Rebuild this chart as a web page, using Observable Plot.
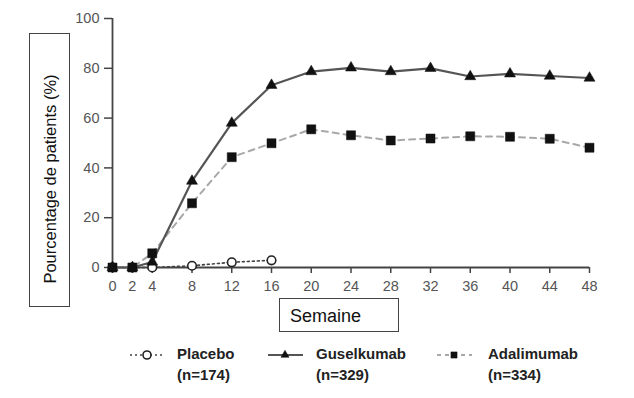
<!DOCTYPE html>
<html>
<head>
<meta charset="utf-8">
<script src="https://cdn.jsdelivr.net/npm/d3@7"></script>
<script src="https://cdn.jsdelivr.net/npm/@observablehq/plot@0.6"></script>
<style>
  html, body { margin: 0; padding: 0; background: #fff; }
  #wrap { position: relative; width: 634px; height: 398px; font-family: "Liberation Sans", Arial, sans-serif; overflow: hidden; }
  #chart { position: absolute; left: 0; top: 0; }
  .box { position: absolute; border: 1.5px solid #444; box-sizing: border-box; background: #fff; }
  #ylab { left: 29px; top: 33px; width: 41px; height: 274px; }
  #ylab span { position: absolute; left: 50%; top: 145px; transform: translate(-50%, -50%) rotate(-90deg); white-space: nowrap; font-size: 16.5px; color: #111; }
  #xlab { left: 279px; top: 298px; width: 120px; height: 34px; }
  #xlab span { position: absolute; left: 10px; top: 7px; font-size: 18px; color: #111; }
  .leg { position: absolute; top: 343px; font-weight: bold; font-size: 15px; line-height: 21px; color: #222; }
  .legsym { position: absolute; top: 345px; }
</style>
</head>
<body>
<div id="wrap">
  <div id="chart"></div>
  <div class="box" id="ylab"><span>Pourcentage de patients (%)</span></div>
  <div class="box" id="xlab"><span>Semaine</span></div>
</div>
<script>
const weeks = [0, 2, 4, 8, 12, 16, 20, 24, 28, 32, 36, 40, 44, 48];
const placeboWeeks = [0, 2, 4, 8, 12, 16];
const placebo = [0, 0, 0, 0.7, 2.1, 2.9];
const guselkumab = [0, 0, 2.2, 34.7, 58.0, 73.2, 78.7, 80.2, 78.7, 80.0, 76.7, 77.8, 76.9, 76.1];
const adalimumab = [0, 0, 5.7, 25.8, 44.3, 49.9, 55.5, 53.1, 51.0, 51.8, 52.7, 52.5, 51.7, 48.1];
const xTicks = [0, 2, 4, 8, 12, 16, 20, 24, 28, 32, 36, 40, 44, 48];
const yTicks = [0, 20, 40, 60, 80, 100];
const seriesNames = ["Placebo", "Guselkumab", "Adalimumab"];
const seriesN = ["(n=174)", "(n=329)", "(n=334)"];

const pla = placeboWeeks.map((w, i) => ({week: w, value: placebo[i]}));
const gus = weeks.map((w, i) => ({week: w, value: guselkumab[i]}));
const ada = weeks.map((w, i) => ({week: w, value: adalimumab[i]}));

const chart = Plot.plot({
  width: 634,
  height: 340,
  marginLeft: 112,
  marginRight: 45,
  marginTop: 18,
  marginBottom: 73,
  style: {fontFamily: "Liberation Sans, Arial, sans-serif", background: "transparent"},
  x: {domain: [0, 48]},
  y: {domain: [0, 100]},
  marks: [
    Plot.axisY({ticks: yTicks, tickSize: 8, tickPadding: 5, label: null, fontSize: 14.5, color: "#555", stroke: "#444", strokeWidth: 1.5}),
    Plot.axisX({ticks: xTicks, tickSize: 6, tickPadding: 7, label: null, fontSize: 14.5, color: "#555", stroke: "#444", strokeWidth: 1.5}),
    Plot.ruleX([0], {stroke: "#444", strokeWidth: 1.8}),
    Plot.ruleY([0], {stroke: "#444", strokeWidth: 1.8}),
    Plot.line(pla, {x: "week", y: "value", stroke: "#444", strokeWidth: 1.6, strokeDasharray: "2,3"}),
    Plot.dot(pla, {x: "week", y: "value", symbol: "circle", r: 4.3, fill: "#fff", stroke: "#222", strokeWidth: 1.6}),
    Plot.line(ada, {x: "week", y: "value", stroke: "#a8a8a8", strokeWidth: 2, strokeDasharray: "6,5"}),
    Plot.line(gus, {x: "week", y: "value", stroke: "#555", strokeWidth: 2.2}),
    Plot.dot(ada, {x: "week", y: "value", symbol: "square", r: 5.1, fill: "#111", stroke: "#111", strokeWidth: 0.5}),
    Plot.dot(gus, {x: "week", y: "value", symbol: "triangle", r: 4.1, fill: "#111", stroke: "#111", strokeWidth: 0.5})
  ]
});
document.getElementById("chart").appendChild(chart);

// Legend
const wrap = document.getElementById("wrap");
const legSpecs = [
  {x0: 128, cx: 19, tx: 177, sym: "circle", dash: "2,3", stroke: "#444", sw: 1.5},
  {x0: 266, cx: 19, tx: 316, sym: "triangle", dash: null, stroke: "#555", sw: 2},
  {x0: 435, cx: 19, tx: 488, sym: "square", dash: "4,4", stroke: "#a8a8a8", sw: 2}
];
legSpecs.forEach((s, i) => {
  const svg = d3.create("svg").attr("class", "legsym").attr("width", 40).attr("height", 20)
    .style("left", s.x0 + "px");
  svg.append("line").attr("x1", 2).attr("x2", 37).attr("y1", 10).attr("y2", 10)
    .attr("stroke", s.stroke).attr("stroke-width", s.sw).attr("stroke-dasharray", s.dash);
  const symType = s.sym === "circle" ? d3.symbolCircle : s.sym === "triangle" ? d3.symbolTriangle : d3.symbolSquare;
  const size = s.sym === "circle" ? Math.PI * 16 : s.sym === "triangle" ? Math.PI * 9 : Math.PI * 12;
  svg.append("path").attr("d", d3.symbol(symType, size)()).attr("transform", `translate(${s.cx},10)`)
    .attr("fill", s.sym === "circle" ? "#fff" : "#111").attr("stroke", s.sym === "circle" ? "#222" : "#111")
    .attr("stroke-width", s.sym === "circle" ? 1.6 : 0.5);
  wrap.appendChild(svg.node());
  const t = document.createElement("div");
  t.className = "leg";
  t.style.left = s.tx + "px";
  t.innerHTML = seriesNames[i] + "<br>" + seriesN[i];
  wrap.appendChild(t);
});
</script>
</body>
</html>
